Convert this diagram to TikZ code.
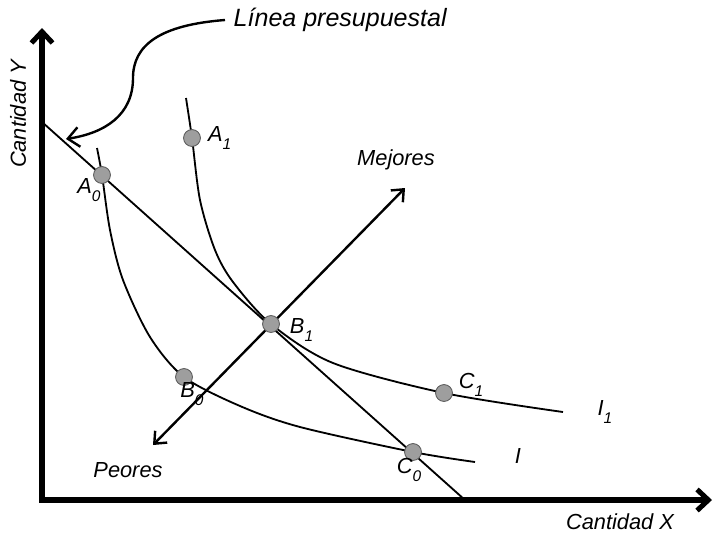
\documentclass[tikz,border=0pt]{standalone}
\usepackage{fontspec}
\setmainfont{Liberation Sans}
\usetikzlibrary{arrows.meta, positioning, backgrounds}

\newcommand{\ptname}[2]{#1\raisebox{-0.7ex}{\fontsize{11}{12}\selectfont #2}}

\begin{document}
\begin{tikzpicture}[
        x=0.025cm, y=-0.025cm,
        dot/.style={circle, draw=black!65, fill=black!38, line width=0.6pt, minimum size=12pt, inner sep=0pt},
        lbl/.style={font=\fontsize{15.5}{18}\selectfont\itshape, inner sep=1pt},
        axis/.style={line width=3.6pt, {Straight Barb[length=8pt, width=15pt]}-{Straight Barb[length=8pt, width=15pt]}},
        curve/.style={line width=1.3pt},
        dirarrow/.style={line width=1.7pt, {Straight Barb[length=7pt, width=12pt]}-{Straight Barb[length=7pt, width=12pt]}},
        callout/.style={line width=1.7pt, -{Straight Barb[length=8pt, width=14pt]}}
        ]
        \useasboundingbox (0,0) rectangle (716,535);

        % Axes
        \coordinate (ytip) at (42,28);
        \coordinate (origin) at (42,500);
        \coordinate (xtip) at (712,500);
        \draw [axis] (ytip) -- (origin) -- (xtip);
        \node (ylabel) [lbl, rotate=90] at (18,114) {Cantidad Y};
        \node (xlabel) [lbl] at (620,522) {Cantidad X};

        % Points
        \node (a0) [dot] at (102,175) {};
        \node (a1) [dot] at (192,138) {};
        \node (b0) [dot] at (184,377) {};
        \node (b1) [dot] at (271,324) {};
        \node (c0) [dot] at (413,452) {};
        \node (c1) [dot] at (444,393) {};

        % Budget line, curves and direction arrow
        \coordinate (bl0) at (42,122);
        \coordinate (bl1) at (465,500);
        \coordinate (mejor) at (405,188);
        \coordinate (peor) at (153,445);
        \begin{scope}[on background layer]
            \draw [curve] (bl0) -- (bl1);
            \draw [curve] plot[smooth] coordinates {(97,148) (a0) (110,230) (123,280) (150,337) (b0) (240,406) (300,427) (c0) (475,462)};
            \draw [curve] plot[smooth] coordinates {(186,98) (a1) (200,200) (215,250) (233,282) (b1) (333,363) (c1) (563,412)};
            \draw [dirarrow] (peor) -- (mejor);
        \end{scope}

        % Labels
        \node (a0lbl) [lbl] at (89,190) {\ptname{A}{0}};
        \node (a1lbl) [lbl, right=4pt of a1] {\ptname{A}{1}};
        \node (b0lbl) [lbl] at (192,394) {\ptname{B}{0}};
        \node (b1lbl) [lbl, right=6pt of b1, yshift=-4pt] {\ptname{B}{1}};
        \node (c0lbl) [lbl] at (409,470) {\ptname{C}{0}};
        \node (c1lbl) [lbl] at (471,385) {\ptname{C}{1}};
        \node (i1lbl) [lbl] at (605,412) {\ptname{I}{1}};
        \node (ilbl) [lbl] at (518,456) {I};
        \node (mejores) [lbl] at (396,160) {Mejores};
        \node (peores) [lbl] at (128,470) {Peores};

        % Budget line callout
        \node (budget) [lbl, font=\fontsize{17.8}{20}\selectfont\itshape, inner xsep=6pt, anchor=west] at (225,20) {Línea presupuestal};
        \coordinate (budgettip) at (66,139);
        \draw [callout] (budget.west) .. controls (160,25) and (133,45) .. (133,78) .. controls (133,115) and (105,133) .. (budgettip);

    \end{tikzpicture}
\end{document}
